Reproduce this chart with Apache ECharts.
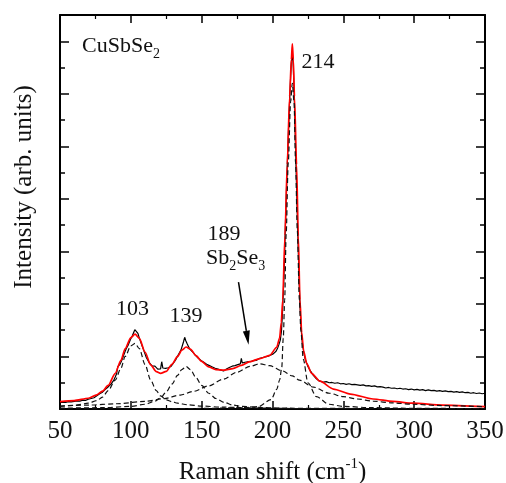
<!DOCTYPE html>
<html>
<head>
<meta charset="utf-8">
<script src="https://cdn.jsdelivr.net/npm/echarts@6/dist/echarts.min.js"></script>
<style>html,body{margin:0;padding:0;background:#fff}#c{width:506px;height:483px}</style>
</head>
<body>
<div id="c"></div>
<script>
// ---- data (x: Raman shift cm-1, y: intensity, arb. units) ----
const xMin = 50, xMax = 350, xStep = 50;
const yMin = 0, yMax = 15;

const measured = [
[50,0.24],[52,0.26],[54,0.25],[56,0.28],[58,0.27],[60,0.29],[62,0.31],[64,0.3],[66,0.34],[68,0.33],
[70,0.37],[72,0.4],[74,0.43],[76,0.5],[78,0.58],[80,0.64],[82,0.75],[84,0.84],[86,0.95],[88,1.1],
[89,1.22],[90,1.35],[90.7,1.6],[91.5,1.55],[92.3,1.7],[93,1.78],[94,1.9],[95,2.05],[96,2.2],[97,2.32],
[98,2.42],[99,2.55],[100,2.68],[101,2.78],[102,2.85],[102.8,3.02],[103.5,2.95],[104.2,3.05],[105,2.88],[106,2.7],
[107,2.55],[108,2.4],[109,2.25],[110,2.1],[111,1.95],[112,1.86],[113,1.76],[114,1.7],[115,1.64],[116,1.6],
[117,1.63],[118,1.56],[119,1.52],[120,1.57],[121,1.53],[121.8,1.8],[122.6,1.56],[123.5,1.5],[124.5,1.55],[125.5,1.51],
[126.5,1.57],[127.5,1.6],[128.5,1.63],[129.5,1.7],[130.5,1.78],[131.5,1.86],[132.5,1.96],[133.5,2.06],[134.5,2.16],[135.5,2.26],
[136.5,2.32],[137.2,2.56],[138,2.73],[138.8,2.6],[139.6,2.5],[140.5,2.4],[141.5,2.29],[142.5,2.26],[143.5,2.18],[144.5,2.11],
[145.5,2.05],[146.5,2.01],[147.5,1.94],[148.5,1.92],[149.5,1.85],[150.5,1.83],[151.5,1.78],[152.5,1.76],[153.5,1.7],[154.5,1.71],
[155.5,1.65],[156.5,1.63],[157.5,1.6],[158.5,1.58],[159.5,1.55],[160.5,1.57],[161.5,1.52],[162.5,1.5],[163.5,1.48],[164.5,1.51],
[165.5,1.45],[166.5,1.5],[167.5,1.52],[168.5,1.55],[169.5,1.58],[170.5,1.6],[171.5,1.63],[172.5,1.6],[173.5,1.65],[174.5,1.66],
[175.5,1.69],[176.5,1.7],[177.3,1.72],[178,1.93],[178.7,1.75],[179.5,1.74],[180.5,1.78],[181.5,1.76],[182.5,1.8],[183.5,1.82],
[184.5,1.8],[185.5,1.85],[186.5,1.84],[187.5,1.87],[188.5,1.85],[189.5,1.9],[190.5,1.92],[191.5,1.9],[192.5,1.95],[193.5,1.93],
[194.5,1.98],[195.5,1.96],[196.5,2.0],[197.5,2.02],[198.5,2.05],[199.5,2.04],[200.5,2.1],[201.5,2.13],[202.5,2.2],[203.5,2.3],
[204.5,2.45],[205.5,2.62],[206.3,2.95],[207,3.6],[207.7,4.5],[208.4,5.6],[209.1,7.0],[209.8,8.2],[210.5,9.4],[211.2,10.5],
[211.9,11.5],[212.6,12.4],[213.3,13.2],[214,13.6],[214.7,13.0],[215.4,11.8],[216.1,10.3],[216.8,8.8],[217.5,7.4],[218.2,6.0],
[218.9,4.7],[219.6,3.7],[220.3,3.0],[221,2.55],[222,2.18],[223,1.92],[224,1.76],[225,1.62],[226,1.52],[227,1.43],
[228,1.35],[229,1.27],[230,1.2],[231,1.15],[232,1.1],[233,1.07],[234,1.04],[236,1.02],[238,1.04],[240,1.0],
[242,1.01],[244,0.98],[246,1.0],[248,0.96],[250,0.97],[252,0.94],[254,0.96],[256,0.93],[258,0.94],[260,0.92],
[262,0.9],[264,0.92],[266,0.88],[268,0.89],[270,0.86],[272,0.88],[274,0.84],[276,0.85],[278,0.83],[280,0.8],
[282,0.82],[284,0.79],[286,0.8],[288,0.77],[290,0.79],[292,0.76],[294,0.77],[296,0.74],[298,0.76],[300,0.73],
[302,0.75],[304,0.72],[306,0.74],[308,0.7],[310,0.73],[312,0.7],[314,0.71],[316,0.68],[318,0.7],[320,0.67],
[322,0.69],[324,0.66],[326,0.67],[328,0.64],[330,0.66],[332,0.63],[334,0.65],[336,0.62],[338,0.63],[340,0.6],
[342,0.62],[344,0.59],[346,0.61],[348,0.58],[350,0.6]
];

const fitTotal = [
[50,0.28],[60,0.32],[70,0.41],[76,0.54],[80,0.68],[84,0.9],[89,1.36],[93,1.85],[96,2.3],[100,2.72],
[103,2.85],[106,2.69],[110,2.17],[114,1.68],[118,1.42],[121,1.36],[125,1.43],[129,1.7],[133,2.0],[136,2.24],
[139,2.36],[142,2.28],[146,2.03],[150,1.81],[155,1.6],[160,1.5],[166,1.48],[172,1.54],[178,1.66],[184,1.8],
[191,1.92],[198,2.04],[203,2.35],[205,2.7],[206.2,3.3],[207.2,4.15],[208.8,6.6],[210.4,9.3],[212.1,11.9],[213.3,13.3],
[214,13.9],[214.7,13.3],[215.5,11.9],[217,9.3],[218.2,6.6],[219.4,4.15],[220.6,2.9],[222,2.2],[224.1,1.74],[227.6,1.36],
[233.5,1.06],[243,0.76],[255,0.57],[271,0.38],[285,0.29],[299,0.22],[320,0.15],[350,0.09]
];

const peak103 = [
[50,0.1],[60,0.14],[70,0.22],[76,0.32],[80,0.45],[84,0.7],[89,1.1],[93,1.55],[96,2.0],[100,2.4],
[103,2.5],[106,2.3],[110,1.7],[114,1.1],[118,0.7],[121,0.5],[125,0.35],[129,0.28],[133,0.22],[140,0.16],
[150,0.11],[165,0.07],[185,0.04],[210,0.02],[260,0.01]
];

const peak139 = [
[50,0.03],[80,0.05],[100,0.1],[110,0.18],[117,0.3],[121,0.42],[125,0.65],[129,0.95],[133,1.28],[136,1.5],
[139,1.62],[142,1.5],[146,1.2],[150,0.9],[155,0.6],[160,0.4],[166,0.25],[172,0.15],[178,0.1],[190,0.06],
[210,0.03],[250,0.02],[350,0.01]
];

const peak189 = [
[50,0.11],[70,0.15],[90,0.2],[110,0.29],[123,0.39],[135,0.53],[144,0.67],[155,0.88],[165,1.13],[175,1.4],
[184,1.62],[191,1.72],[198,1.65],[207,1.45],[214,1.26],[219,1.1],[229,0.83],[240,0.6],[250,0.47],[260,0.38],
[271,0.3],[285,0.23],[299,0.18],[320,0.13],[350,0.085]
];

const peak214 = [
[50,0.005],[100,0.01],[150,0.02],[180,0.05],[190,0.09],[199,0.36],[203,0.75],[205,1.1],[206.5,1.55],[207.6,2.7],
[208.6,4.15],[209.6,6.6],[211.1,9.35],[212.8,11.7],[214,12.4],[215.2,11.7],[216.3,9.35],[217.5,6.8],[219,4.15],[220,3.0],
[221.7,1.9],[225,1.0],[231,0.47],[240,0.18],[250,0.1],[270,0.05],[300,0.025],[350,0.01]
];

// annotation: arrow pointing at the Sb2Se3 shoulder (data coordinates)
const arrowFrom = [176, 4.83];
const arrowTo = [183.1, 2.45];

// ---- chart ----
const FONT = "'Liberation Serif','Times New Roman',serif";
const chart = echarts.init(document.getElementById('c'), null, {renderer: 'canvas'});

function xAxisDef(pos, showLabel) {
  return {
    type: 'value', position: pos, min: xMin, max: xMax, interval: xStep,
    axisLine: {show: true, onZero: false, lineStyle: {color: '#000', width: 2}},
    axisTick: {show: true, inside: true, length: 8, lineStyle: {color: '#000', width: 1.5}},
    minorTick: {show: true, splitNumber: 2, length: 4, lineStyle: {color: '#000', width: 1.2}},
    splitLine: {show: false},
    axisLabel: {show: showLabel, margin: 10, fontSize: 25, fontFamily: FONT, color: '#111'}
  };
}
function yAxisDef(pos, step, len, showLine) {
  return {
    type: 'value', position: pos, min: yMin, max: yMax, interval: step,
    axisLine: {show: showLine, onZero: false, lineStyle: {color: '#000', width: 2}},
    axisTick: {show: true, inside: true, length: len, lineStyle: {color: '#000', width: 1.5}},
    splitLine: {show: false},
    axisLabel: {show: false}
  };
}

const xBottom = xAxisDef('bottom', true);
xBottom.name = '{m|Raman shift (cm}{s|-1}{m|)}';
xBottom.nameLocation = 'middle';
xBottom.nameGap = 48;
xBottom.nameTextStyle = {
  fontFamily: FONT, color: '#111',
  rich: {
    m: {fontSize: 25, fontFamily: FONT, color: '#111', lineHeight: 30},
    s: {fontSize: 15, fontFamily: FONT, color: '#111', lineHeight: 16, verticalAlign: 'top'}
  }
};

function dashed(name, data) {
  return {
    name: name, type: 'line', data: data, showSymbol: false, symbol: 'none',
    smooth: 0.3, smoothMonotone: 'x',
    lineStyle: {color: '#111', width: 1.2, type: [5, 3]}, z: 4
  };
}

const annText = {fontSize: 22, fontFamily: FONT, fill: '#111'};

const staticGraphics = [
  {type: 'text', x: 24, y: 187, rotation: Math.PI / 2, z: 10, style: {
    text: 'Intensity (arb. units)', align: 'center', verticalAlign: 'middle',
    fontSize: 25, fontFamily: FONT, fill: '#111'}},
  {type: 'text', left: 82, top: 35, z: 10, style: {
    text: '{m|CuSbSe}{s|2}',
    rich: {
      m: {fontSize: 22, fontFamily: FONT, fill: '#111', lineHeight: 30},
      s: {fontSize: 14, fontFamily: FONT, fill: '#111', lineHeight: 14, verticalAlign: 'bottom'}
    }}},
  {type: 'text', x: 318, y: 62.5, z: 10, style: Object.assign({text: '214', align: 'center', verticalAlign: 'middle'}, annText)},
  {type: 'text', x: 132.5, y: 309, z: 10, style: Object.assign({text: '103', align: 'center', verticalAlign: 'middle'}, annText)},
  {type: 'text', x: 186, y: 316, z: 10, style: Object.assign({text: '139', align: 'center', verticalAlign: 'middle'}, annText)},
  {type: 'text', x: 224, y: 234, z: 10, style: Object.assign({text: '189', align: 'center', verticalAlign: 'middle'}, annText)},
  {type: 'text', left: 206, top: 247.5, z: 10, style: {
    text: '{m|Sb}{s|2}{m|Se}{s|3}',
    rich: {
      m: {fontSize: 22, fontFamily: FONT, fill: '#111', lineHeight: 30},
      s: {fontSize: 14, fontFamily: FONT, fill: '#111', lineHeight: 14, verticalAlign: 'bottom'}
    }}}
];

chart.setOption({
  animation: false,
  backgroundColor: '#fff',
  grid: {left: 60, right: 21, top: 15, bottom: 74, containLabel: false, outerBoundsMode: 'none'},
  xAxis: [xBottom, xAxisDef('top', false)],
  yAxis: [yAxisDef('left', 1, 5, true), yAxisDef('left', 2, 9, false), yAxisDef('right', 1, 5, true), yAxisDef('right', 2, 9, false)],
  series: [
    {
      name: 'measured', type: 'line', data: measured, showSymbol: false, symbol: 'none',
      lineStyle: {color: '#000', width: 1.2}, z: 2
    },
    {
      name: 'fit', type: 'line', data: fitTotal, showSymbol: false, symbol: 'none',
      smooth: 0.25, smoothMonotone: 'x',
      lineStyle: {color: '#ff0000', width: 1.7}, z: 3
    },
    dashed('103', peak103),
    dashed('139', peak139),
    dashed('189', peak189),
    dashed('214', peak214)
  ],
  graphic: staticGraphics
});

// arrow: endpoints converted through the chart's own scales
const p0 = chart.convertToPixel({gridIndex: 0}, arrowFrom);
const p1 = chart.convertToPixel({gridIndex: 0}, arrowTo);
const dx = p1[0] - p0[0], dy = p1[1] - p0[1];
const L = Math.sqrt(dx * dx + dy * dy), ux = dx / L, uy = dy / L;
const headLen = 14, headHalf = 3.5;
const bx = p1[0] - ux * headLen, by = p1[1] - uy * headLen;
chart.setOption({
  graphic: staticGraphics.concat([
    {type: 'line', z: 10, shape: {x1: p0[0], y1: p0[1], x2: bx, y2: by}, style: {stroke: '#000', lineWidth: 1.5}},
    {type: 'polygon', z: 10, shape: {points: [[p1[0], p1[1]], [bx - uy * headHalf, by + ux * headHalf], [bx + uy * headHalf, by - ux * headHalf]]}, style: {fill: '#000'}}
  ])
});
</script>
</body>
</html>
